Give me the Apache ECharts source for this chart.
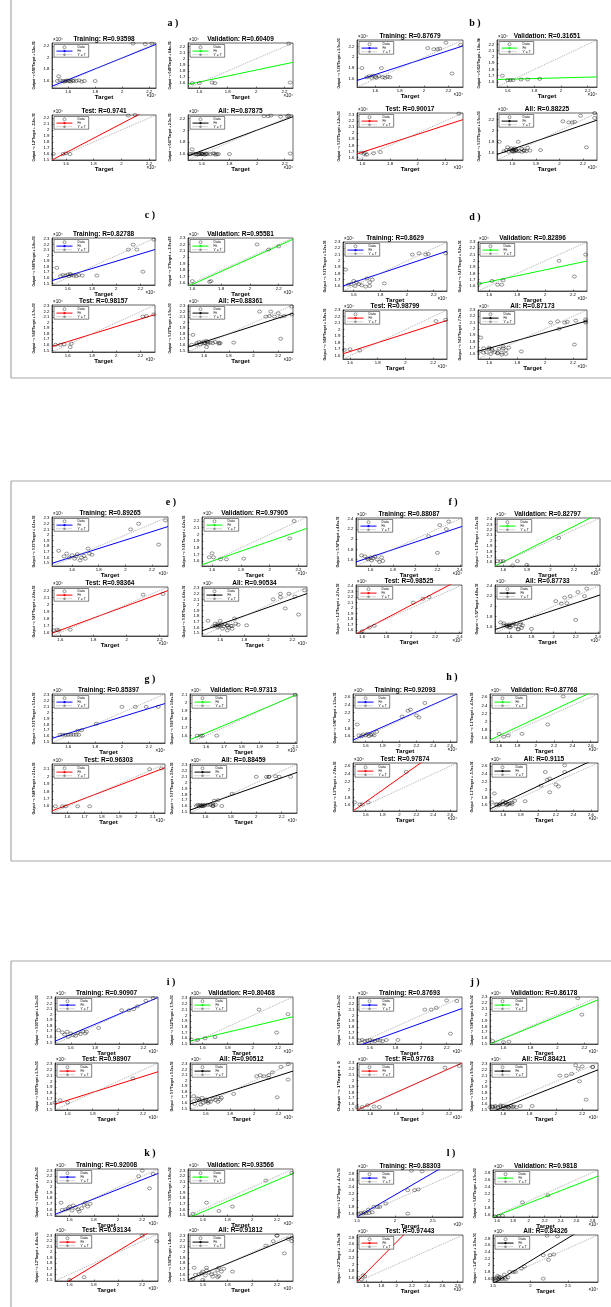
<!DOCTYPE html>
<html><head><meta charset="utf-8">
<script src="https://cdn.jsdelivr.net/npm/echarts@6/dist/echarts.min.js"></script>
<style>html,body{margin:0;padding:0;background:#fff}#c{width:611px;height:1307px}</style>
</head><body><div id="c"></div>
<script>
// ---------------- DATA (values in units of 10^4) ----------------
const panelLetters = ['a','b','c','d','e','f','g','h','i','j','k','l'];
const plotNames = ['Training','Validation','Test','All'];
const rTraining   = ['0.93598','0.87679','0.82788','0.8629','0.89265','0.88087','0.85397','0.92093','0.90907','0.87693','0.92008','0.88303'];
const rValidation = ['0.60409','0.31651','0.95581','0.82896','0.97905','0.82797','0.97313','0.87768','0.80468','0.86178','0.93566','0.9818'];
const rTest       = ['0.9741','0.90017','0.98157','0.98799','0.98364','0.98525','0.96303','0.97874','0.98907','0.97763','0.93134','0.97443'];
const rAll        = ['0.87875','0.88225','0.88361','0.87173','0.90534','0.87733','0.88459','0.9115','0.90512','0.88421','0.91812','0.84326'];

// fit: Output ~= slope*Target + intercept (intercept in 1e4 units)
const fitTraining   = [[0.93,0.134],[0.736,0.503],[0.66,0.58],[0.71,0.521],[0.75,0.41],[0.74,0.462],[0.71,0.509],[0.96,0.108],[0.93,0.153],[0.805,0.252],[0.87,0.222],[1.31,-0.465]];
const fitValidation = [[0.49,0.835],[0.055,1.556],[1.0,-0.02],[0.47,0.916],[0.74,0.418],[1.1,-0.153],[0.92,0.161],[1.06,-0.04],[0.52,0.77],[0.94,0.09],[0.95,0.036],[0.87,0.2]];
const fitTest       = [[1.21,-0.315],[0.73,0.521],[0.68,0.57],[0.68,0.576],[0.87,0.241],[1.16,-0.268],[0.88,0.21],[1.54,-0.783],[0.69,0.566],[1.0,0.0],[1.33,-0.638],[2.28,-1.894]];
const fitAll        = [[0.87,0.265],[0.73,0.497],[0.72,0.5],[0.62,0.70],[0.76,0.44],[0.72,0.48],[0.77,0.39],[1.07,-0.05],[0.7,0.55],[0.91,0.09],[0.92,0.14],[1.36,-0.59]];

// axis limits (same for Target and Output)
const rangeTraining   = [[1.48,2.25],[1.45,2.32],[1.47,2.32],[1.52,2.3],[1.45,2.32],[1.47,2.42],[1.48,2.32],[1.45,2.68],[1.47,2.32],[1.5,2.32],[1.48,2.33],[1.5,2.9]];
const rangeValidation = [[1.52,2.26],[1.52,2.27],[1.57,2.3],[1.52,2.3],[1.53,2.26],[1.53,2.42],[1.51,2.11],[1.5,2.68],[1.5,2.32],[1.5,2.3],[1.48,2.33],[1.55,2.87]];
const rangeTest       = [[1.5,2.25],[1.56,2.33],[1.47,2.32],[1.55,2.3],[1.55,2.25],[1.55,2.42],[1.51,2.17],[1.45,2.68],[1.5,2.32],[1.5,2.3],[1.48,2.33],[1.48,2.87]];
const rangeAll        = [[1.5,2.26],[1.47,2.32],[1.47,2.32],[1.52,2.3],[1.45,2.32],[1.47,2.42],[1.48,2.32],[1.45,2.68],[1.47,2.32],[1.5,2.32],[1.48,2.33],[1.5,2.9]];

// tick labels
const ticksStep01 = [1.4,1.5,1.6,1.7,1.8,1.9,2,2.1,2.2,2.3,2.4,2.5,2.6,2.7,2.8,2.9];
const ticksStep02 = [1.4,1.6,1.8,2,2.2,2.4,2.6,2.8];
const ticksStep05 = [1.5,2,2.5,3];
// tick set per plot: first char = Target axis, second = Output axis
const tickKindTraining   = ['22','22','21','21','21','22','21','22','21','21','21','52'];
const tickKindValidation = ['21','21','21','21','21','21','11','22','21','21','21','22'];
const tickKindTest       = ['21','21','21','21','21','21','11','22','21','21','21','22'];
const tickKindAll        = ['22','22','21','21','21','22','21','22','21','21','21','52'];

// [Target, Output] points
const aTrain = [[1.52,1.6],[1.53,1.68],[1.54,1.61],[1.56,1.6],[1.57,1.59],[1.58,1.6],[1.59,1.61],[1.6,1.6],[1.61,1.6],[1.62,1.59],[1.63,1.61],[1.64,1.6],[1.66,1.6],[1.68,1.61],[1.7,1.59],[1.72,1.6],[1.8,1.6],[2.08,2.24],[2.17,2.23],[2.22,2.24]];
const aVal   = [[1.55,1.6],[1.6,1.6],[1.69,1.61],[1.71,1.6],[2.24,1.61],[2.23,2.25]];
const aTest  = [[1.51,1.6],[1.58,1.6],[1.6,1.61],[1.63,1.6],[2.05,2.24],[2.1,2.25]];

const bTrain = [[1.49,1.8],[1.53,1.63],[1.55,1.65],[1.57,1.62],[1.58,1.66],[1.6,1.64],[1.61,1.62],[1.63,1.65],[1.65,1.8],[1.66,1.63],[1.68,1.62],[1.7,1.64],[1.72,1.63],[2.03,2.17],[2.08,2.15],[2.11,2.15],[2.13,2.16],[2.18,2.27],[2.23,1.7],[2.3,2.23]];
const bVal   = [[1.56,1.7],[1.6,1.63],[1.62,1.63],[1.64,1.63],[1.7,1.64],[1.75,1.64],[1.84,1.65]];
const bTest  = [[1.59,1.68],[1.61,1.66],[1.62,1.68],[1.63,1.65],[1.68,1.67],[1.73,1.69],[2.3,2.32]];

const cTrain = [[1.51,1.78],[1.54,1.63],[1.56,1.65],[1.58,1.64],[1.6,1.66],[1.61,1.63],[1.62,1.67],[1.63,1.65],[1.65,1.64],[1.67,1.63],[1.69,1.65],[1.72,1.64],[1.84,1.64],[2.1,2.11],[2.14,2.2],[2.17,2.11],[2.22,1.71],[2.31,2.29]];
const cVal   = [[1.6,1.63],[1.72,1.62],[1.73,1.63],[2.05,2.2],[2.13,2.12],[2.2,2.17]];
const cTest  = [[1.5,1.6],[1.54,1.6],[1.57,1.61],[1.62,1.56],[1.63,1.62],[2.22,2.11],[2.25,2.12],[2.31,2.15]];

const dTrain = [[1.54,1.86],[1.56,1.62],[1.58,1.63],[1.6,1.68],[1.61,1.6],[1.62,1.66],[1.64,1.63],[1.66,1.61],[1.69,1.59],[1.72,1.6],[1.7,1.72],[1.72,1.66],[1.74,1.7],[1.83,1.64],[2.04,2.1],[2.09,2.12],[2.14,2.1],[2.16,2.11],[2.29,2.12]];
const dVal   = [[1.53,1.64],[1.62,1.68],[1.66,1.62],[1.69,1.62],[1.7,1.69],[2.1,2.0],[2.21,1.75],[2.29,2.1]];
const dTest  = [[1.56,1.69],[1.6,1.7],[1.67,1.68],[2.22,2.13],[2.29,2.15]];

const eTrain = [[1.5,1.72],[1.54,1.62],[1.56,1.67],[1.58,1.6],[1.6,1.64],[1.62,1.58],[1.63,1.62],[1.64,1.66],[1.66,1.55],[1.67,1.6],[1.69,1.63],[1.7,1.58],[1.72,1.76],[1.73,1.67],[1.75,1.65],[2.04,2.1],[2.1,2.2],[2.25,1.83],[2.3,2.26]];
const eVal   = [[1.58,1.66],[1.6,1.72],[1.61,1.66],[1.66,1.63],[1.7,1.63],[1.82,1.64],[2.14,1.94],[2.17,2.2]];
const eTest  = [[1.56,1.63],[1.58,1.64],[1.59,1.63],[1.66,1.64],[2.1,2.14],[2.22,2.15]];

const fTrain = [[1.52,1.68],[1.55,1.66],[1.57,1.62],[1.58,1.6],[1.6,1.64],[1.61,1.58],[1.62,1.62],[1.64,1.66],[1.66,1.6],[1.68,1.55],[1.7,1.64],[1.71,1.57],[2.2,1.73],[2.12,2.06],[2.22,2.28],[2.3,2.35],[2.28,2.2]];
const fVal   = [[1.55,1.62],[1.58,1.62],[1.6,1.62],[1.68,1.54],[1.72,1.62],[1.8,1.55],[2.07,2.05]];
const fTest  = [[1.6,1.58],[1.66,1.65],[1.7,1.68],[2.02,2.1],[2.1,2.17],[2.15,2.2]];

const gTrain = [[1.54,1.62],[1.56,1.62],[1.58,1.62],[1.6,1.62],[1.62,1.62],[1.64,1.62],[1.66,1.62],[1.68,1.62],[1.67,1.69],[1.7,1.7],[1.81,1.81],[2.0,2.1],[2.1,2.1],[2.18,2.1],[2.27,2.1]];
const gVal   = [[1.55,1.6],[1.57,1.6],[1.58,1.6],[1.66,1.6],[2.1,2.1]];
const gTest  = [[1.53,1.6],[1.57,1.6],[1.59,1.6],[1.66,1.6],[1.73,1.6],[2.08,2.1],[2.15,2.11]];

const hTrain = [[1.5,1.9],[1.52,1.62],[1.55,1.6],[1.57,1.64],[1.6,1.62],[1.62,1.66],[1.64,1.6],[1.66,1.63],[1.68,1.65],[1.7,1.62],[1.73,1.71],[2.03,2.1],[2.1,2.25],[2.13,2.28],[2.2,2.13],[2.23,2.08],[2.3,2.45]];
const hVal   = [[1.6,1.7],[1.65,1.63],[1.7,1.66],[1.85,1.7],[2.13,1.93],[2.3,2.62]];
const hTest  = [[1.47,1.67],[1.53,1.62],[1.56,1.62],[1.63,1.67],[2.08,2.45]];

const iTrain = [[1.5,1.72],[1.53,1.68],[1.55,1.64],[1.57,1.69],[1.58,1.6],[1.6,1.66],[1.62,1.63],[1.64,1.62],[1.66,1.67],[1.68,1.65],[1.7,1.7],[1.72,1.66],[1.73,1.69],[1.83,1.76],[2.02,2.08],[2.08,2.08],[2.12,2.1],[2.15,2.15],[2.22,2.25],[2.28,2.3]];
const iVal   = [[1.51,1.58],[1.56,1.57],[1.62,1.6],[1.7,1.62],[2.05,2.1],[2.28,2.02],[2.19,1.7]];
const iTest  = [[1.5,1.63],[1.54,1.67],[1.6,1.63],[2.12,2.05]];

const jTrain = [[1.52,1.56],[1.54,1.57],[1.56,1.55],[1.58,1.56],[1.6,1.57],[1.62,1.56],[1.64,1.55],[1.66,1.57],[1.68,1.56],[1.7,1.55],[1.73,1.57],[1.82,1.57],[2.23,1.68],[2.03,2.1],[2.08,2.1],[2.12,2.13],[2.2,2.26],[2.28,2.25]];
const jVal   = [[1.52,1.55],[1.6,1.53],[1.64,1.54],[2.18,2.0],[2.15,2.28]];
const jTest  = [[1.5,1.55],[1.54,1.55],[1.58,1.58],[1.63,1.56],[1.67,1.55],[2.17,2.22],[2.28,2.25]];

const kTrain = [[1.53,1.72],[1.54,1.59],[1.57,1.6],[1.59,1.62],[1.6,1.65],[1.62,1.58],[1.63,1.67],[1.65,1.63],[1.67,1.6],[1.68,1.56],[1.7,1.62],[1.72,1.68],[1.73,1.72],[1.75,1.65],[1.77,1.7],[2.17,2.2],[2.2,2.3],[2.26,1.98],[2.29,2.24]];
const kVal   = [[1.52,1.52],[1.63,1.72],[1.73,1.57],[1.84,1.65],[2.11,2.12],[2.32,2.26]];
const kTest  = [[1.6,1.5],[1.72,1.55],[2.2,2.3],[2.32,2.2]];

const lTrain = [[1.52,1.6],[1.55,1.62],[1.58,1.6],[1.6,1.64],[1.62,1.61],[1.65,1.72],[1.66,1.62],[1.7,1.64],[1.72,1.8],[1.77,1.8],[1.8,1.8],[1.88,1.9],[2.17,1.6],[2.17,2.3],[2.26,2.3],[2.31,2.32],[2.22,2.88],[2.36,2.86]];
const lVal   = [[1.57,1.57],[1.62,1.58],[1.67,1.58],[1.92,1.96],[2.24,2.16]];
const lTest  = [[1.5,1.6],[1.56,1.68],[1.58,1.65],[1.54,1.55]];

const trainSets = [aTrain,bTrain,cTrain,dTrain,eTrain,fTrain,gTrain,hTrain,iTrain,jTrain,kTrain,lTrain];
const valSets   = [aVal,bVal,cVal,dVal,eVal,fVal,gVal,hVal,iVal,jVal,kVal,lVal];
const testSets  = [aTest,bTest,cTest,dTest,eTest,fTest,gTest,hTest,iTest,jTest,kTest,lTest];

// ---------------- LAYOUT ----------------
// [left1, width1, left2, width2, top1, top2, height]
const panelLayout = [
  [52,104,188,105,43,115,45],
  [357,106,497,100,40,113,47],
  [52,103,188,105,238,305,47],
  [343,104,478,109,242,310,49],
  [52,116,202,105,517,587,49],
  [356,106,495,105,518,585,48],
  [52,113,190,107,694,764,49],
  [353,104,490,108,694,763,48],
  [55,103,190,103,997,1063,47],
  [357,105,490,108,997,1063,47],
  [55,103,188,105,1169,1234,47],
  [357,106,493,105,1170,1235,47]
];
const panelLabelPos = [[173,23],[475,23],[150,215],[475,217],[171,502],[453,502],[150,679],[452,677],[171,982],[475,982],[150,1153],[451,1153]];

const FONT = 'Liberation Sans';
const fitColors = ['#0000ff','#00ff00','#ff0000','#000000'];
const tickSets = {'1': ticksStep01, '2': ticksStep02, '5': ticksStep05};

function fmtG(v){
  if (Math.abs(v) < 1e-9) return '0';
  let s = Number(v).toPrecision(2);
  if (s.indexOf('e') >= 0) {
    let parts = s.split('e'); let sign = parts[1][0]; let d = parts[1].slice(1);
    if (d.length < 2) d = '0' + d;
    s = parts[0] + 'e' + sign + d;
  } else s = String(parseFloat(s));
  return s;
}
const mctx = document.createElement('canvas').getContext('2d');

const option = {backgroundColor:'#fff', animation:false, grid:[], xAxis:[], yAxis:[], series:[], legend:[], graphic:{elements:[]}};
const G = option.graphic.elements;

// group frames
const frameStyle = {stroke:'#a8a8a8', lineWidth:1.2};
[[11,0,11,378],[11,378,611,378],[11,481,611,481],[11,481,11,861],[11,861,611,861],[11,961,611,961],[11,961,11,1307]].forEach(l=>{
  G.push({type:'line', shape:{x1:l[0],y1:l[1],x2:l[2],y2:l[3]}, style:frameStyle, silent:true});
});

let gi = 0;
panelLetters.forEach((letter, p) => {
  const lay = panelLayout[p];
  const rects = [[lay[0],lay[4],lay[1],lay[6]],[lay[2],lay[4],lay[3],lay[6]],[lay[0],lay[5],lay[1],lay[6]],[lay[2],lay[5],lay[3],lay[6]]];
  const ptsList = [trainSets[p], valSets[p], testSets[p], trainSets[p].concat(valSets[p], testSets[p])];
  const rList = [rTraining[p], rValidation[p], rTest[p], rAll[p]];
  const fitList = [fitTraining[p], fitValidation[p], fitTest[p], fitAll[p]];
  const rangeList = [rangeTraining[p], rangeValidation[p], rangeTest[p], rangeAll[p]];
  const tickList = [tickKindTraining[p], tickKindValidation[p], tickKindTest[p], tickKindAll[p]];
  G.push({type:'text', x:panelLabelPos[p][0], y:panelLabelPos[p][1], silent:true,
    style:{text:letter+' )', fontSize:10, fontWeight:'bold', fontFamily:'Liberation Serif', fill:'#000', align:'center', verticalAlign:'middle'}});
  for (let k = 0; k < 4; k++) {
    const [x,y,w,h] = rects[k];
    const [lo,hi] = rangeList[k];
    const [m,b] = fitList[k];
    const xt = tickSets[tickList[k][0]], yt = tickSets[tickList[k][1]];
    option.grid.push({left:x, top:y, width:w, height:h, show:true, borderColor:'#000', borderWidth:0.6, backgroundColor:'#fff'});
    const axCommon = (ticks) => ({
      type:'value', gridIndex:gi, min:lo, max:hi,
      axisLine:{show:true, onZero:false, lineStyle:{color:'#000', width:0.6}},
      axisTick:{show:true, inside:true, length:1.5, customValues:ticks, lineStyle:{color:'#000', width:0.5}},
      axisLabel:{customValues:ticks, fontSize:4.3, color:'#000', fontFamily:FONT, margin:1.5},
      splitLine:{show:false}
    });
    const xa = axCommon(xt);
    xa.name = 'Target'; xa.nameLocation = 'middle'; xa.nameGap = 3;
    xa.nameTextStyle = {fontSize:6.2, fontWeight:'bold', color:'#000', fontFamily:FONT, verticalAlign:'top'};
    option.xAxis.push(xa);
    const ya = axCommon(yt); ya.axisLabel.margin = 2.5;
    option.yAxis.push(ya);
    option.series.push({type:'line', name:'Fit', xAxisIndex:gi, yAxisIndex:gi, data:[[lo, m*lo+b],[hi, m*hi+b]],
      symbol:'none', clip:true, silent:true, z:2, lineStyle:{color:fitColors[k], width:1}, itemStyle:{color:fitColors[k]}});
    option.series.push({type:'line', name:'Y = T', xAxisIndex:gi, yAxisIndex:gi, data:[[lo,lo],[hi,hi]],
      symbol:'none', clip:true, silent:true, z:2, lineStyle:{color:'#8c8c8c', width:0.7, type:[1,1]}, itemStyle:{color:'#8c8c8c'}});
    option.series.push({type:'scatter', name:'Data', xAxisIndex:gi, yAxisIndex:gi, data:ptsList[k],
      symbol:'circle', symbolSize:[4,3], silent:true, z:3, itemStyle:{color:'rgba(0,0,0,0)', borderColor:'#000', borderWidth:0.5}});
    option.legend.push({left:x+2, top:y+1.5, orient:'vertical', itemWidth:16, itemHeight:3, itemGap:0.6,
      padding:[1,3,1,2], borderColor:'#000', borderWidth:0.5, backgroundColor:'#fff', selectedMode:false,
      textStyle:{fontSize:3.4, color:'#000', fontFamily:FONT},
      data:[{name:'Data', icon:'circle', itemStyle:{color:'rgba(0,0,0,0)', borderColor:'#000', borderWidth:0.5}},
            {name:'Fit', itemStyle:{color:fitColors[k]}, lineStyle:{color:fitColors[k], width:1}},
            {name:'Y = T', itemStyle:{color:'#8c8c8c'}, lineStyle:{color:'#8c8c8c', width:0.7, type:[1,1]}}]});
    // title
    G.push({type:'text', x:x+w/2, y:y-4, silent:true, z:10,
      style:{text:plotNames[k]+': R='+rList[k], fontSize:6.5, fontWeight:'bold', fontFamily:FONT, fill:'#000', align:'center', verticalAlign:'middle'}});
    // x10^4 labels
    G.push({type:'text', x:x+1, y:y-3, silent:true, style:{text:'\u00d710\u2074', fontSize:4.5, fontFamily:FONT, fill:'#000', align:'left', verticalAlign:'middle'}});
    G.push({type:'text', x:x+w, y:y+h+7.5, silent:true, style:{text:'\u00d710\u2074', fontSize:4.5, fontFamily:FONT, fill:'#000', align:'right', verticalAlign:'middle'}});
    // y label
    const ylab = 'Output ~= ' + fmtG(m) + '*Target + ' + fmtG(b*1e4);
    mctx.font = 'bold 4px "' + FONT + '"';
    const tw = mctx.measureText(ylab).width || 60;
    const sc = Math.min(1.2, (h+3)/tw);
    G.push({type:'text', x:x-18, y:y+h/2, rotation:Math.PI/2, scaleX:sc, scaleY:1, silent:true,
      style:{text:ylab, fontSize:4, fontWeight:'bold', fontFamily:FONT, fill:'#000', align:'center', verticalAlign:'middle'}});
    gi++;
  }
});

const chart = echarts.init(document.getElementById('c'), null, {renderer:'canvas', width:611, height:1307});
chart.setOption(option);
</script>
</body></html>
